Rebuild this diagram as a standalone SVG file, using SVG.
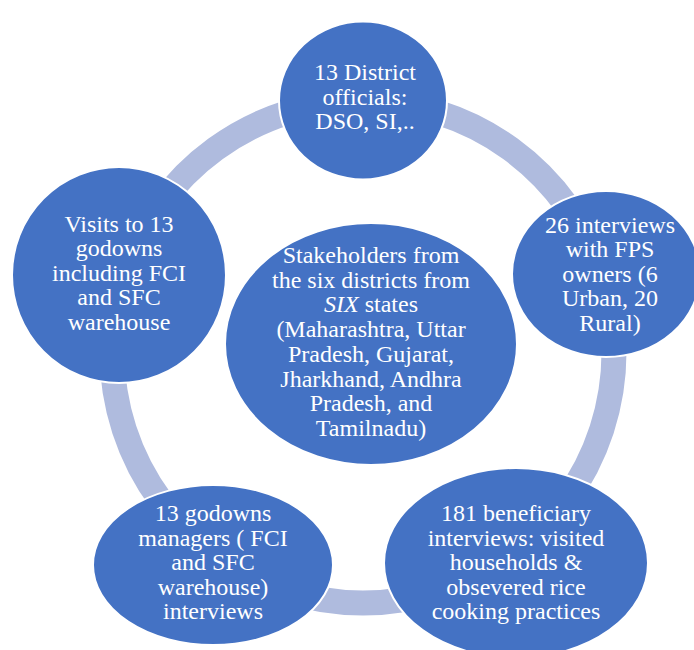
<svg xmlns="http://www.w3.org/2000/svg" width="694" height="650" viewBox="0 0 694 650">
<style>
.ring{fill:none;stroke:#AFBBDE;stroke-width:25}
.node{fill:#4472C4;stroke:#FFFFFF;stroke-width:2}
.t{font-family:"Liberation Serif","Times New Roman",serif;font-size:24px;fill:#FFFFFF;text-anchor:middle}
</style>
<rect width="694" height="650" fill="#FFFFFF"/>
<g id="connectors">
<path class="ring" d="M363 101 A251 251 0 0 1 601.7 274.4"/>
<path class="ring" d="M601.7 274.4 A251 251 0 0 1 510.5 555.1"/>
<path class="ring" d="M510.5 555.1 A251 251 0 0 1 215.5 555.1"/>
<path class="ring" d="M215.5 555.1 A251 251 0 0 1 124.3 274.4"/>
<path class="ring" d="M124.3 274.4 A251 251 0 0 1 363 101"/>
</g>
<g id="center">
<ellipse class="node" cx="371" cy="344" rx="146" ry="121"/>
<text class="t" x="371" y="263">Stakeholders from</text>
<text class="t" x="371" y="287.7">the six districts from</text>
<text class="t" x="371" y="312.4"><tspan font-style="italic">SIX</tspan> states</text>
<text class="t" x="371" y="337.1">(Maharashtra, Uttar</text>
<text class="t" x="371" y="361.8">Pradesh, Gujarat,</text>
<text class="t" x="371" y="386.5">Jharkhand, Andhra</text>
<text class="t" x="371" y="411.2">Pradesh, and</text>
<text class="t" x="371" y="435.9">Tamilnadu)</text>
</g>
<g id="node-top">
<ellipse class="node" cx="363" cy="100.5" rx="84" ry="79"/>
<text class="t" x="365" y="80">13 District</text>
<text class="t" x="365" y="104.5">officials:</text>
<text class="t" x="365" y="129">DSO, SI,..</text>
</g>
<g id="node-right">
<ellipse class="node" cx="606" cy="274" rx="94" ry="83"/>
<text class="t" x="610" y="232.5">26 interviews</text>
<text class="t" x="610" y="257">with FPS</text>
<text class="t" x="610" y="281.5">owners (6</text>
<text class="t" x="610" y="306">Urban, 20</text>
<text class="t" x="610" y="330.5">Rural)</text>
</g>
<g id="node-bottom-right">
<ellipse class="node" cx="516" cy="563" rx="132" ry="95"/>
<text class="t" x="516" y="521">181 beneficiary</text>
<text class="t" x="516" y="545.5">interviews: visited</text>
<text class="t" x="516" y="570">households &amp;</text>
<text class="t" x="516" y="594.5">obsevered rice</text>
<text class="t" x="516" y="619">cooking practices</text>
</g>
<g id="node-bottom-left">
<ellipse class="node" cx="213" cy="565" rx="120" ry="80"/>
<text class="t" x="213" y="521">13 godowns</text>
<text class="t" x="213" y="545.5">managers ( FCI</text>
<text class="t" x="213" y="570">and SFC</text>
<text class="t" x="213" y="594.5">warehouse)</text>
<text class="t" x="213" y="619">interviews</text>
</g>
<g id="node-left">
<ellipse class="node" cx="119" cy="275" rx="107" ry="108"/>
<text class="t" x="119" y="231.5">Visits to 13</text>
<text class="t" x="119" y="256">godowns</text>
<text class="t" x="119" y="280.5">including FCI</text>
<text class="t" x="119" y="305">and SFC</text>
<text class="t" x="119" y="329.5">warehouse</text>
</g>
</svg>
